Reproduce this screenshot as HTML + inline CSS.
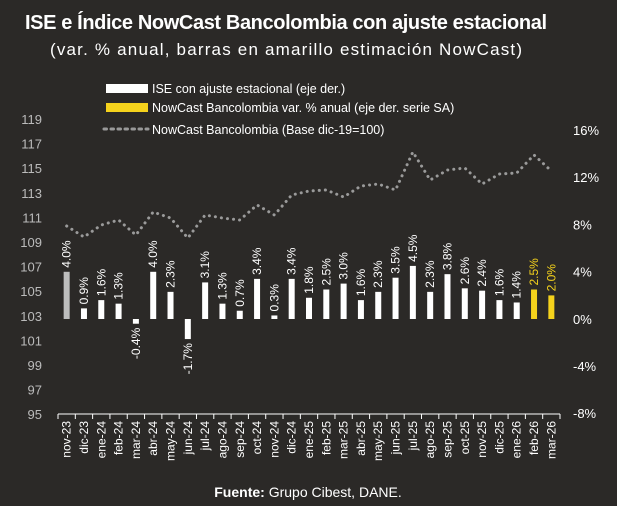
<!DOCTYPE html><html><head><meta charset="utf-8"><style>
body{margin:0;background:#2b2927;}
svg{display:block;font-family:"Liberation Sans",sans-serif;}
</style></head><body>
<svg id="s" width="617" height="506" viewBox="0 0 617 506">
<rect width="617" height="506" fill="#2b2927"/>
<text x="286" y="29" fill="#fff" font-size="20" font-weight="bold" text-anchor="middle" textLength="522">ISE e Índice NowCast Bancolombia con ajuste estacional</text>
<text x="286" y="55" fill="#fff" font-size="17" text-anchor="middle" textLength="472">(var. % anual, barras en amarillo estimación NowCast)</text>
<rect x="106" y="84" width="42" height="9" fill="#fff"/>
<text x="152" y="93" fill="#fff" font-size="12.5">ISE con ajuste estacional  (eje der.)</text>
<rect x="106" y="103" width="42" height="9" fill="#f5d21c"/>
<text x="152" y="112" fill="#fff" font-size="12.5">NowCast Bancolombia var. % anual (eje der. serie SA)</text>
<line x1="104" y1="129" x2="148" y2="129" stroke="#999" stroke-width="3" stroke-dasharray="2.5 4.5" stroke-linecap="round"/>
<text x="152" y="134" fill="#fff" font-size="12.5">NowCast Bancolombia (Base dic-19=100)</text>
<g id="g"></g>
<text x="308" y="497" fill="#fff" font-size="14" text-anchor="middle"><tspan font-weight="bold">Fuente:</tspan> Grupo Cibest, DANE.</text>
</svg>
<script>
const g=document.getElementById('g');const NS='http://www.w3.org/2000/svg';
function el(t,a,txt){const e=document.createElementNS(NS,t);for(const k in a)e.setAttribute(k,a[k]);if(txt!==undefined)e.textContent=txt;g.appendChild(e);return e;}
for(let i=0;i<=12;i++){const v=119-2*i;el('text',{x:42,y:124+i*24.6,fill:'#bbb','font-size':13,'text-anchor':'end'},v);}
const rl=['16%','12%','8%','4%','0%','-4%','-8%'];
rl.forEach((t,i)=>el('text',{x:573,y:135+i*47.2,fill:'#fff','font-size':13},t));
const X0=58,X1=560,n=29,w=(X1-X0)/n;
el('line',{x1:X0,y1:414,x2:X1,y2:414,stroke:'#fff','stroke-width':1});
for(let i=0;i<=n;i++)el('line',{x1:X0+i*w,y1:414,x2:X0+i*w,y2:419,stroke:'#fff','stroke-width':1});
const m=['nov-23','dic-23','ene-24','feb-24','mar-24','abr-24','may-24','jun-24','jul-24','ago-24','sep-24','oct-24','nov-24','dic-24','ene-25','feb-25','mar-25','abr-25','may-25','jun-25','jul-25','ago-25','sep-25','oct-25','nov-25','dic-25','ene-26','feb-26','mar-26'];
const v=[4.0,0.9,1.6,1.3,-0.4,4.0,2.3,-1.7,3.1,1.3,0.7,3.4,0.3,3.4,1.8,2.5,3.0,1.6,2.3,3.5,4.5,2.3,3.8,2.6,2.4,1.6,1.4,2.5,2.0];
const ly=[226,237,225,220,235,212,218,238,215,218,220,205,215,195,191,190,197,186,184,190,152,180,170,168,184,174,173,155,171];
const Z=319,k=11.8;
let d='';
m.forEach((t,i)=>{const cx=X0+w*(i+0.5);
 const col=i==0?'#bdbdbd':(i>=27?'#f5d21c':'#fff');
 const h=v[i]*k;
 el('rect',{x:cx-3,y:h>=0?Z-h:Z,width:6,height:Math.abs(h)||1,fill:col});
 const lc=i>=27?'#f5d21c':'#fff';
 const lab=v[i].toFixed(1)+'%';
 if(v[i]>=0){el('text',{x:0,y:0,fill:lc,'font-size':12,transform:`translate(${cx+4},${Z-h-4}) rotate(-90)`},lab);}
 else{el('text',{x:0,y:0,fill:lc,'font-size':12,'text-anchor':'end',transform:`translate(${cx+4},${Z-h+4}) rotate(-90)`},lab);}
 el('text',{x:0,y:0,fill:'#fff','font-size':12,'text-anchor':'end',transform:`translate(${cx+4},${421}) rotate(-90)`},t);
 d+=(i?'L':'M')+cx+' '+ly[i];
});
el('path',{d:d,fill:'none',stroke:'#9a9a9a','stroke-width':3,'stroke-dasharray':'0.1 6','stroke-linecap':'round'});
</script>
</body></html>
